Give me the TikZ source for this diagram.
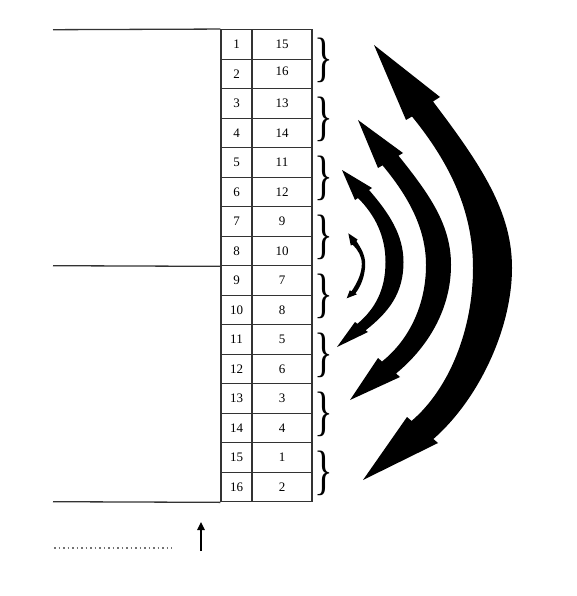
\documentclass[tikz,border=0pt]{standalone}
\usepackage{fontspec}
\setmainfont{Liberation Serif}
\usetikzlibrary{arrows.meta}
\begin{document}
\begin{tikzpicture}[x=1pt,y=-1pt,
  gridline/.style={draw=black!80, line width=1.3pt},
  cell/.style={gridline, inner sep=0pt, minimum height=29.5pt, font=\fontsize{13}{14}\selectfont},
  lcell/.style={cell, minimum width=31pt},
  rcell/.style={cell, minimum width=60pt},
  bracesym/.style={inner sep=0pt, font=\fontsize{54}{54}\selectfont},
  bigarrow/.style={fill=black},
  dotline/.style={draw=black!55, line width=1.8pt, dash pattern=on 1.8pt off 2.7pt},
  uparrow/.style={draw=black, line width=1.4pt, -{Triangle[length=8pt,width=7.5pt]}}]
\useasboundingbox (0,0) rectangle (577,596);

% table cells
\foreach \i/\r in {1/15,2/{\raisebox{6pt}{16}},3/13,4/14,5/11,6/12,7/9,8/10,9/7,10/8,11/5,12/6,13/3,14/4,15/1,16/2}{
  \node[lcell] (l\i) at (236.5,{29.7+(\i-0.5)*29.5}) {\i};
  \node[rcell] (r\i) at (282,{29.7+(\i-0.5)*29.5}) {\r};
}

% long horizontal lines
\coordinate (top) at (53,29.7);
\coordinate (mid) at (53,265.7);
\coordinate (bot) at (53,501.7);
\draw[gridline] (top) -- (l1.north west);
\draw[gridline] (mid) -- (l8.south west);
\draw[gridline] (bot) -- (l16.south west);

% braces
\foreach \k in {1,...,8}{
  \node[bracesym] (b\k) at (324,{29.7+(2*\k-1)*29.5+1.5}) {\scalebox{0.72}[1]{\}}};
}

% arrow 4 (largest)
\fill[bigarrow] (374,45) -- (440,97) -- (433,101.5)
  .. controls (482,166) and (512,212) .. (512,268)
  .. controls (512,327) and (480,398) .. (433.4,439)
  -- (438,443) -- (363,480) -- (407,417) -- (411.6,420.9)
  .. controls (449,389) and (473,330) .. (473,268)
  .. controls (473,210) and (449,162) .. (412,116.5)
  -- (406,120) -- cycle;

% arrow 3
\fill[bigarrow] (358,120) -- (403,153) -- (398.5,155.7)
  .. controls (430,195) and (451,225) .. (451,265)
  .. controls (451,311) and (426,349) .. (396,373.5)
  -- (400,377) -- (350,400) -- (378,358) -- (382,361.5)
  .. controls (409,340) and (426,305) .. (426,265)
  .. controls (426,228) and (408,196) .. (382.5,165.3)
  -- (378,168) -- cycle;

% arrow 2
\fill[bigarrow] (342,170) -- (372,188) -- (369,190)
  .. controls (389,213) and (403.5,235) .. (403.5,262)
  .. controls (403.5,293) and (389,312) .. (365.6,330.3)
  -- (368,332) -- (337,347) -- (355,322) -- (357.4,323.8)
  .. controls (375,309) and (385.5,290) .. (385.5,262)
  .. controls (385.5,236) and (375,215) .. (358,198)
  -- (355,200) -- cycle;

% arrow 1 (smallest)
\fill[bigarrow] (348.3,233.3) -- (357.5,239.5) -- (356.4,241.2)
  .. controls (361,248) and (365.2,255) .. (365.2,264)
  .. controls (365.2,276) and (360.5,287) .. (355.4,293.3)
  -- (357,294.3) -- (346.7,298.3) -- (349.8,290.3) -- (351.5,291.3)
  .. controls (356.5,284) and (361.8,274) .. (361.8,264)
  .. controls (361.8,256) and (358,250) .. (352.6,244.6)
  -- (350.8,245.5) -- cycle;

% dotted line and up arrow
\coordinate (dotA) at (54,548);
\coordinate (dotB) at (172,548);
\draw[dotline] (dotA) -- (dotB);
\coordinate (upA) at (201,551);
\coordinate (upB) at (201,522);
\draw[uparrow] (upA) -- (upB);
\end{tikzpicture}
\end{document}
